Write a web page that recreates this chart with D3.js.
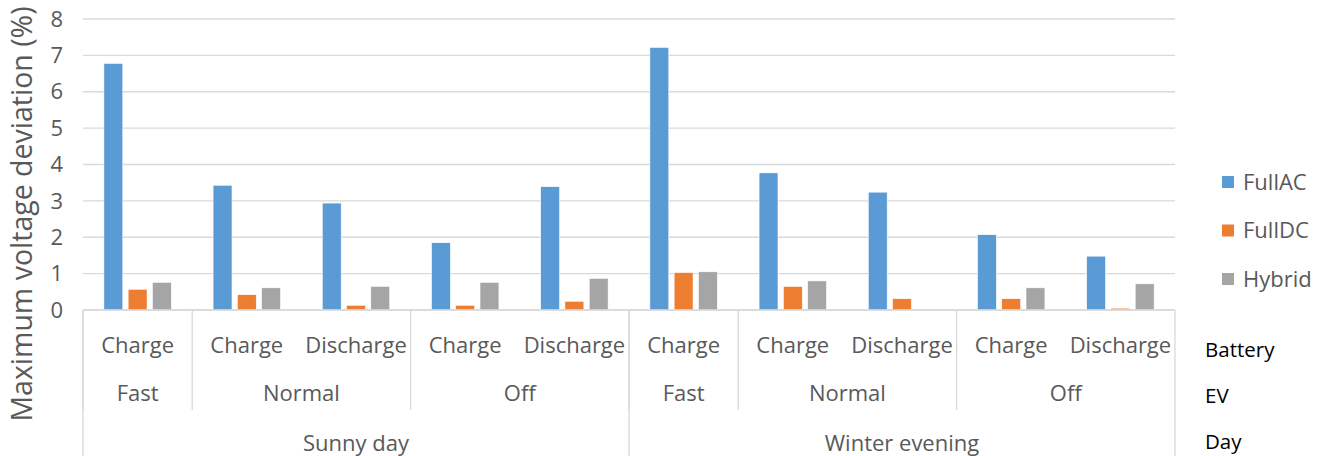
<!DOCTYPE html>
<html>
<head>
<meta charset="utf-8">
<script src="https://cdn.jsdelivr.net/npm/d3@7"></script>
<style>
  body { margin: 0; background: #fff; }
  text { font-family: "Open Sans", "Noto Sans", sans-serif; }
</style>
</head>
<body>
<div id="chart"></div>
<script>
// categories, three levels
const battery = ["Charge", "Charge", "Discharge", "Charge", "Discharge", "Charge", "Charge", "Discharge", "Charge", "Discharge"];
const ev = ["Fast", "Normal", "Normal", "Off", "Off", "Fast", "Normal", "Normal", "Off", "Off"];
const day = ["Sunny day", "Sunny day", "Sunny day", "Sunny day", "Sunny day", "Winter evening", "Winter evening", "Winter evening", "Winter evening", "Winter evening"];
const levelNames = ["Battery", "EV", "Day"];

// series values (max voltage deviation, %)
const seriesNames = ["FullAC", "FullDC", "Hybrid"];
const fullAC = [6.78, 3.43, 2.94, 1.85, 3.39, 7.22, 3.77, 3.24, 2.07, 1.48];
const fullDC = [0.57, 0.42, 0.13, 0.13, 0.24, 1.03, 0.65, 0.31, 0.31, 0.05];
const hybrid = [0.76, 0.61, 0.65, 0.76, 0.87, 1.05, 0.80, 0.00, 0.61, 0.72];
const yTicks = [0, 1, 2, 3, 4, 5, 6, 7, 8];

const colors = ["#5B9BD5", "#ED7D31", "#A5A5A5"];
const W = 1324, H = 456;
const plotLeft = 83, plotRight = 1175, plotTop = 19, plotBottom = 310;

const svg = d3.select("#chart").append("svg")
    .attr("width", W).attr("height", H);

let x0 = d3.scaleBand().domain(d3.range(battery.length)).range([plotLeft, plotRight]).padding(0);
let x1 = d3.scaleBand().domain(seriesNames).range([0, x0.bandwidth()])
    .paddingInner(0.22).paddingOuter(0.86);
let y = d3.scaleLinear().domain([0, 8]).range([plotBottom, plotTop]);

// gridlines
svg.append("g").selectAll("line")
    .data(yTicks)
    .enter().append("line")
    .attr("x1", plotLeft).attr("x2", plotRight)
    .attr("y1", d => y(d)).attr("y2", d => y(d))
    .attr("stroke", "#D9D9D9").attr("stroke-width", 1.3);

// y axis labels
svg.append("g").selectAll("text")
    .data(yTicks)
    .enter().append("text")
    .attr("x", 63).attr("y", d => y(d))
    .attr("dy", "0.35em")
    .attr("text-anchor", "end")
    .attr("fill", "#595959")
    .style("font-size", "22px")
    .text(d => d);

svg.append("text")
    .attr("transform", "translate(22," + 214 + ") rotate(-90)")
    .attr("text-anchor", "middle")
    .attr("dy", "0.35em")
    .attr("fill", "#595959")
    .style("font-size", "28.5px")
    .text("Maximum voltage deviation (%)");

// bars
let data = [];
const values = [fullAC, fullDC, hybrid];
for (let i = 0; i < battery.length; i++) {
    seriesNames.forEach((s, k) => data.push({ idx: i, series: s, k: k, value: values[k][i] }));
}
svg.append("g").selectAll("rect")
    .data(data.filter(d => d.value > 0))
    .enter().append("rect")
    .attr("x", d => x0(d.idx) + x1(d.series))
    .attr("y", d => y(d.value))
    .attr("width", x1.bandwidth())
    .attr("height", d => y(0) - y(d.value))
    .attr("fill", d => colors[d.k])
    .attr("stroke", "#ffffff").attr("stroke-width", 0.6);

// category axis box
const axis = svg.append("g").attr("stroke", "#D9D9D9").attr("stroke-width", 1.3);
axis.append("line").attr("x1", plotLeft).attr("x2", plotRight).attr("y1", plotBottom).attr("y2", plotBottom);

function groups(arr, parent) {
    // runs of equal consecutive labels (also split on parent change)
    let out = [];
    let start = 0;
    for (let i = 1; i <= arr.length; i++) {
        if (i == arr.length || arr[i] != arr[start] || (parent && parent[i] != parent[start])) {
            out.push({ label: arr[start], start: start, end: i });
            start = i;
        }
    }
    return out;
}
const evGroups = groups(ev, day);
const dayGroups = groups(day);
const rowY = [345, 393, 443];

// separators
evGroups.forEach(g => {
    axis.append("line")
        .attr("x1", x0(g.start)).attr("x2", x0(g.start))
        .attr("y1", plotBottom).attr("y2", 410);
});
dayGroups.forEach(g => {
    axis.append("line")
        .attr("x1", x0(g.start)).attr("x2", x0(g.start))
        .attr("y1", plotBottom).attr("y2", H);
});
axis.append("line").attr("x1", plotRight).attr("x2", plotRight).attr("y1", plotBottom).attr("y2", H);

const labels = svg.append("g").attr("fill", "#595959").style("font-size", "22px").attr("text-anchor", "middle");
battery.forEach((b, i) => {
    labels.append("text").attr("x", x0(i) + x0.bandwidth() / 2).attr("y", rowY[0]).attr("dy", "0.35em").text(b);
});
evGroups.forEach(g => {
    labels.append("text").attr("x", (x0(g.start) + x0(g.end - 1) + x0.bandwidth()) / 2).attr("y", rowY[1]).attr("dy", "0.35em").text(g.label);
});
dayGroups.forEach(g => {
    labels.append("text").attr("x", (x0(g.start) + x0(g.end - 1) + x0.bandwidth()) / 2).attr("y", rowY[2]).attr("dy", "0.35em").text(g.label);
});

// level names on the right
const levY = [350, 396, 442];
levelNames.forEach((n, i) => {
    svg.append("text").attr("x", 1205).attr("y", levY[i]).attr("dy", "0.35em")
        .attr("fill", "#000").style("font-size", "20.5px").text(n);
});

// legend
const legend = svg.append("g");
seriesNames.forEach((s, i) => {
    let ly = 182 + i * 48.5;
    legend.append("rect").attr("x", 1222).attr("y", ly - 6).attr("width", 12).attr("height", 12).attr("fill", colors[i]);
    legend.append("text").attr("x", 1243).attr("y", ly).attr("dy", "0.35em")
        .attr("fill", "#595959").style("font-size", "22px").text(s);
});
</script>
</body>
</html>
